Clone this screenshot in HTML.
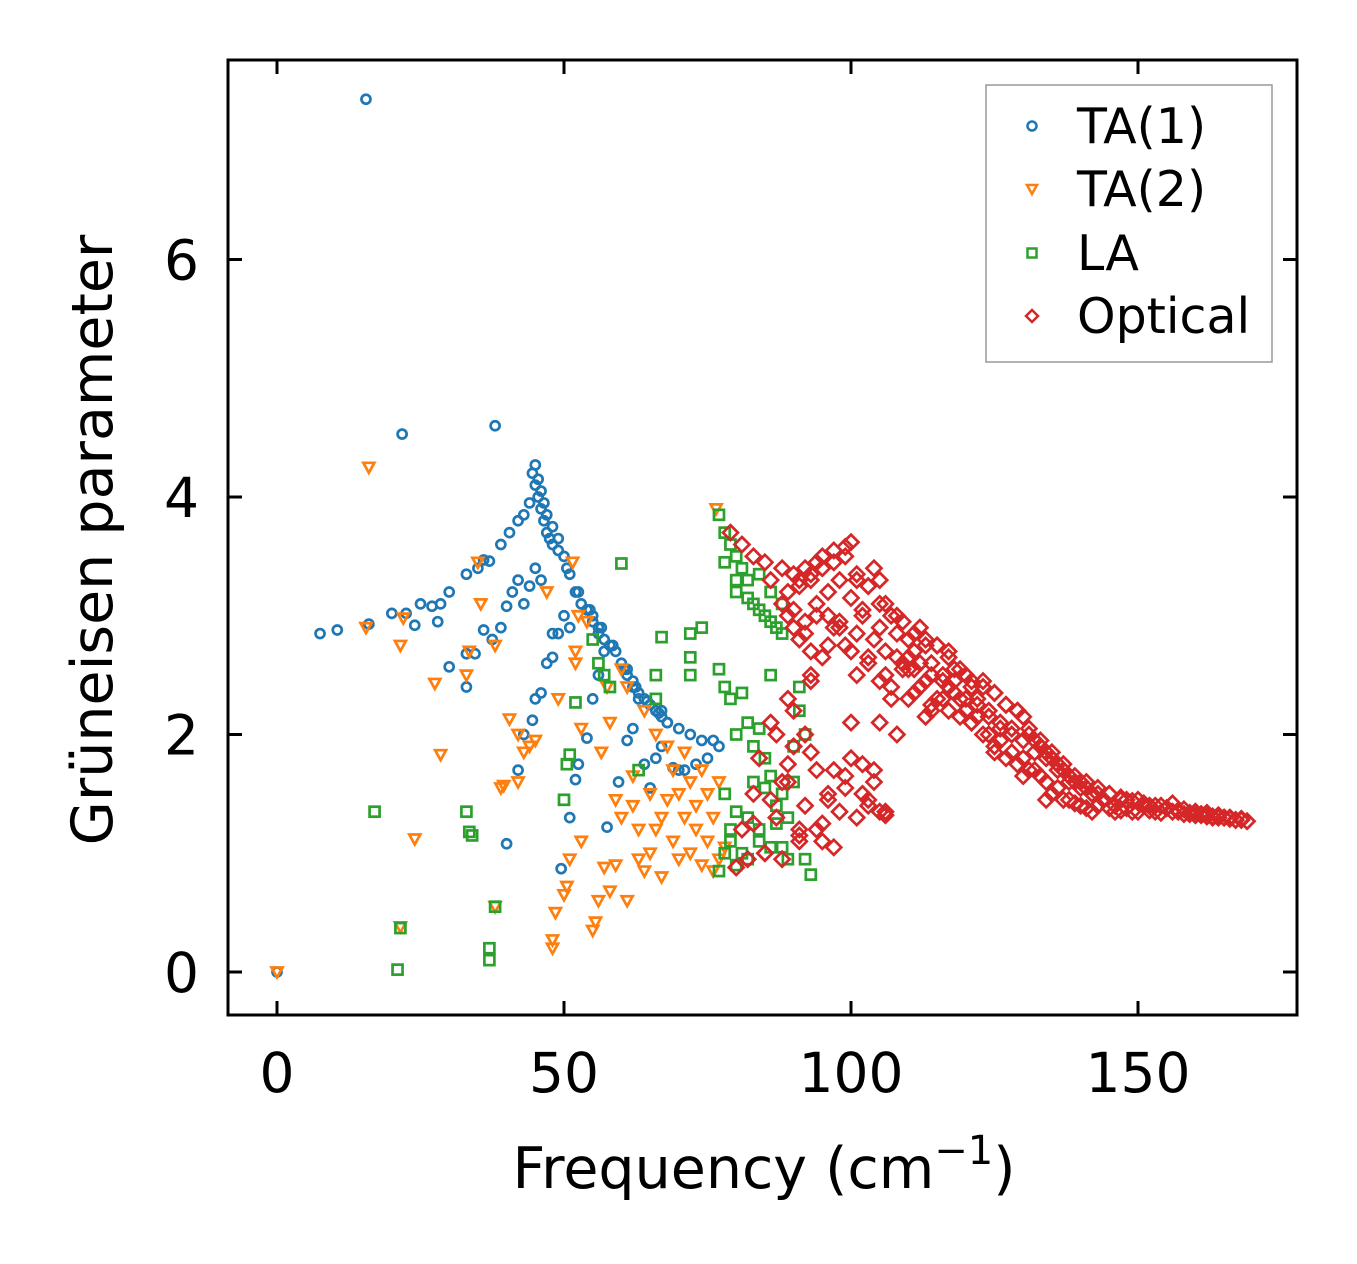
<!DOCTYPE html>
<html><head><meta charset="utf-8"><style>
html,body{margin:0;padding:0;background:#fff;}
svg{display:block;font-family:"DejaVu Sans","Liberation Sans",sans-serif;}
</style></head><body>
<svg id="chart" width="1357" height="1264" viewBox="0 0 1357 1264" xmlns="http://www.w3.org/2000/svg">
<rect width="1357" height="1264" fill="#fff"/>
<g id="marks"></g>
<rect x="228" y="60" width="1069" height="955" fill="none" stroke="#000" stroke-width="3"/>
<g id="axes"></g>
<text x="764" y="1188" font-size="57" text-anchor="middle">Frequency (cm<tspan dy="-24" font-size="40">−1</tspan><tspan dy="24">)</tspan></text>
<text transform="translate(112,540) rotate(-90)" font-size="57" text-anchor="middle">Grüneisen parameter</text>
<g>
<rect x="986" y="85" width="286" height="277" fill="#fff" stroke="#999" stroke-width="1.5"/>
<circle cx="1032" cy="126" r="4.5" fill="none" stroke="#1f77b4" stroke-width="2.5"/>
<text x="1077" y="143" font-size="49">TA(1)</text>
<path d="M1027,185 L1037,185 L1032,194 Z" fill="none" stroke="#ff7f0e" stroke-width="2.5"/>
<text x="1077" y="206" font-size="49">TA(2)</text>
<rect x="1027.5" y="248.5" width="9" height="9" fill="none" stroke="#2ca02c" stroke-width="2.5"/>
<text x="1077" y="270" font-size="49">LA</text>
<path d="M1032,310 L1038,316 L1032,322 L1026,316 Z" fill="none" stroke="#d62728" stroke-width="2.5"/>
<text x="1077" y="333" font-size="49">Optical</text>
</g>
</svg>
<script>
const xTicks=[0,50,100,150];
const yTicks=[0,2,4,6];
const ta1X=[0,7.5,10.5,16,15.5,21.8,38,20,22.5,25,27,28.5,30,33,35,36,37,39,40.5,42,43,44,44.5,45,45.5,46,46.5,47,48,49,50,51,52,53,54,55,56,57,58,59,60,61,62,63,64,65,66,67,68,70,72,74,76,77,30,33,33,34.5,36,37.5,39,40,41,42,43,44,45,46,43,42,44.5,45,46,47,48,48,49,50,51,40,49.5,51,52,52.5,54,55,56,57.5,59.5,61,62,64,65,66,67,69,70,71,73,75,24,28,45,46,47,48,55,56,57,61,62,63,67,68,45.5,46.5,47.5,49,50.5,52.5,54.5,56.5,58.5,60.5,62.5,64.5,66.5];
const ta1Y=[0,2.85,2.88,2.93,7.35,4.53,4.6,3.02,3.02,3.1,3.08,3.1,3.2,3.35,3.4,3.47,3.46,3.6,3.7,3.8,3.85,3.95,4.2,4.27,4.15,4.05,3.95,3.85,3.75,3.65,3.5,3.35,3.2,3.1,3.05,2.95,2.85,2.8,2.75,2.7,2.6,2.55,2.45,2.35,2.3,2.25,2.2,2.15,2.1,2.05,2.0,1.95,1.95,1.9,2.57,2.4,2.68,2.68,2.88,2.8,2.9,3.08,3.2,3.3,3.1,3.25,3.4,3.3,2.0,1.7,2.12,2.3,2.35,2.6,2.65,2.85,2.85,3.0,2.9,1.08,0.87,1.3,1.62,1.75,1.97,2.3,2.5,1.22,1.6,1.95,2.05,1.75,1.55,1.8,1.9,1.72,1.7,1.7,1.75,1.8,2.92,2.95,4.1,3.9,3.7,3.6,3.0,2.9,2.7,2.5,2.4,2.3,2.2,2.1,4.0,3.8,3.65,3.55,3.4,3.2,3.05,2.9,2.75,2.55,2.4,2.28,2.18];
const ta2X=[0,15.5,16,21.5,21.5,22,24,27.5,28.5,33,33.5,35,35.5,38,38,39,39.5,40.5,42,42,43,44,45,47,48,48,48.5,49,50,50.5,51,51.5,52,52,53,54,55,55.5,56,56.5,57,57.5,58,58,59,59,60,60,61,61,62,62,63,63,64,64,65,65,66,66,67,67,68,68,69,69,70,70,71,71,72,72,73,73,74,74,75,75,76,76,77,77,76.5,78,52.5,53];
const ta2Y=[0,2.9,4.25,2.75,0.38,2.98,1.12,2.43,1.83,2.5,2.7,3.45,3.1,2.75,0.55,1.55,1.57,2.13,1.6,2.0,1.85,1.9,1.95,3.2,0.2,0.27,0.5,2.3,0.65,0.72,0.95,3.45,2.7,2.6,1.1,2.95,0.35,0.42,0.6,1.85,0.88,2.4,0.68,2.1,1.45,0.9,2.55,1.3,0.6,2.4,1.65,1.4,0.95,1.2,2.2,0.85,1.0,1.5,2.0,1.2,0.8,1.3,1.45,1.9,1.1,1.7,0.95,1.5,1.3,1.85,1.0,1.6,1.2,1.4,0.9,1.7,1.1,1.5,0.85,1.3,0.95,1.6,3.9,1.05,3.0,2.05];
const laX=[17,21,21.5,33,33.5,34,37,37,38,50,50.5,51,52,60,55,56,57,58,63,66,66,67,72,72,72,74,77,78,79,80,80,81,82,83,84,85,86,87,88,77,78,79,80,81,82,83,84,85,86,78,79,80,81,82,83,84,85,86,87,88,89,90,90,91,91,92,92,93,89,86,84,77,78,79,80,82,87,88,78,80,82,84,86,88];
const laY=[1.35,0.02,0.37,1.35,1.18,1.15,0.2,0.1,0.55,1.45,1.75,1.83,2.27,3.44,2.8,2.6,2.5,2.4,1.7,2.5,2.3,2.82,2.85,2.65,2.5,2.9,3.85,3.7,3.6,3.5,3.2,3.4,3.3,3.1,3.35,3.0,3.2,2.9,3.1,2.55,2.4,2.3,2.0,2.35,2.1,1.9,2.05,1.8,2.5,1.5,1.2,1.35,1.0,1.3,1.6,1.1,1.55,1.65,1.4,1.5,1.3,1.9,1.6,2.4,2.2,2.0,0.95,0.82,0.95,1.05,1.2,0.85,1.0,1.1,0.9,0.95,1.25,1.05,3.45,3.3,3.15,3.05,2.95,2.85];
const optX=[79,81,83,85,86,88,88,89,90,90,91,92,92,93,94,94,95,96,96,97,98,98,99,100,100,101,101,102,103,103,104,105,105,106,106,107,108,108,109,110,110,111,112,112,113,114,114,115,116,116,117,118,118,119,120,120,121,122,122,123,124,124,125,126,126,127,128,128,129,130,130,131,132,132,133,134,134,135,136,136,137,138,138,139,140,140,141,142,142,143,144,145,146,147,148,149,150,151,152,153,154,155,156,157,158,159,160,161,162,163,164,165,166,167,168,169,
 81,82,83,84,85,86,87,88,89,90,91,92,93,94,95,96,97,98,99,100,101,102,103,104,105,106,80,83,86,89,92,88,91,94,97,90,93,96,99,102,105,85,87,89,91,93,95,100,103,104,106,110,113,117,121,125,130,134,114,108,111,
 89,91,93,95,97,99,101,103,105,107,109,111,113,115,117,119,121,123,125,127,129,131,133,135,137,139,141,143,145,147,149,151,153,155,157,159,161,163,165,167,
 90,92,94,96,98,100,102,104,106,108,110,112,114,116,118,120,122,124,126,128,130,132,134,136,138,140,142,144,146,148,150,152,154,156,158,160,162,164,166,168,
 91,93,95,97,99,101,103,105,107,109,111,113,115,117,119,121,123,125,127,129,131,133,135,137,139,141,143,145,147];
const optY=[3.7,3.6,3.5,3.45,3.3,3.4,3.1,3.0,3.35,2.9,3.25,3.4,2.85,3.3,3.45,3.0,3.5,2.75,3.2,3.55,2.95,3.3,3.58,3.62,2.7,3.3,2.5,3.0,3.25,2.65,3.4,2.9,3.3,2.5,3.1,2.3,2.85,3.0,2.6,2.8,2.65,2.55,2.9,2.4,2.75,2.6,2.2,2.75,2.5,2.3,2.7,2.45,2.55,2.3,2.5,2.2,2.4,2.3,2.15,2.45,2.2,2.0,2.35,2.1,1.95,2.25,2.05,1.85,2.2,2.15,1.8,2.0,1.95,1.7,1.9,1.85,1.6,1.8,1.75,1.55,1.7,1.65,1.45,1.6,1.6,1.4,1.55,1.5,1.35,1.5,1.45,1.5,1.35,1.45,1.45,1.35,1.45,1.4,1.4,1.35,1.4,1.38,1.42,1.35,1.37,1.33,1.35,1.32,1.34,1.3,1.32,1.3,1.3,1.28,1.29,1.27,
 1.2,0.95,1.5,1.8,1.0,2.1,1.3,1.6,2.3,1.9,1.1,1.4,2.45,1.7,1.25,1.5,1.05,1.35,1.65,1.8,1.3,1.5,1.4,1.6,1.35,1.32,0.88,1.25,1.45,1.75,2.0,0.95,1.15,1.2,1.7,2.2,2.5,1.45,1.55,1.75,2.1,1.0,2.0,1.6,1.2,1.85,1.1,2.1,1.45,1.7,1.35,2.3,2.15,2.4,2.1,1.85,1.65,1.45,2.25,2.0,2.7,
 3.2,3.3,3.35,3.4,3.45,3.5,3.35,3.25,3.1,3.0,2.95,2.85,2.8,2.75,2.65,2.55,2.45,2.4,2.35,2.25,2.2,2.05,1.95,1.85,1.75,1.65,1.6,1.55,1.5,1.47,1.44,1.42,1.4,1.38,1.36,1.34,1.33,1.31,1.3,1.28,
 3.05,2.95,3.1,3.0,2.9,3.15,3.05,2.8,2.7,2.65,2.55,2.6,2.5,2.45,2.35,2.3,2.25,2.15,2.05,2.0,1.95,1.85,1.8,1.7,1.6,1.55,1.5,1.45,1.4,1.38,1.35,1.36,1.34,1.35,1.33,1.32,1.31,1.3,1.29,1.28,
 2.8,2.7,2.65,2.9,2.75,2.85,2.6,2.45,2.4,2.55,2.35,2.45,2.3,2.2,2.15,2.1,2.0,1.9,1.8,1.75,1.7,1.65,1.5,1.45,1.42,1.38,1.4,1.38,1.36];
const X0=277,XS=5.74,Y0=972,YS=118.75;
const sx=v=>X0+v*XS, sy=v=>Y0-v*YS;
const NS='http://www.w3.org/2000/svg';
const marks=document.getElementById('marks');
const axes=document.getElementById('axes');
function mk(tag,attrs){const e=document.createElementNS(NS,tag);for(const k in attrs)e.setAttribute(k,attrs[k]);return e;}
function series(xs,ys,color,shape,name){
 const g=mk('g',{});
 
 
 for(let i=0;i<xs.length;i++){
  const x=sx(xs[i]),y=sy(ys[i]);let e;
  if(shape==='o')e=mk('circle',{cx:x,cy:y,r:4.5});
  else if(shape==='v')e=mk('path',{d:`M${x-5.5},${y-4.5} L${x+5.5},${y-4.5} L${x},${y+5.5} Z`});
  else if(shape==='s')e=mk('rect',{x:x-5,y:y-5,width:10,height:10});
  else e=mk('path',{d:`M${x},${y-7.5} L${x+7.5},${y} L${x},${y+7.5} L${x-7.5},${y} Z`});
  e.setAttribute('fill','none');e.setAttribute('stroke',color);e.setAttribute('stroke-width','2.7');
  
  
  g.appendChild(e);
 }
 marks.appendChild(g);
}
series(ta1X,ta1Y,'#1f77b4','o','ta1');
series(ta2X,ta2Y,'#ff7f0e','v','ta2');
series(laX,laY,'#2ca02c','s','la');
series(optX,optY,'#d62728','d','optical');
for(const t of xTicks){
 const x=sx(t);
 axes.appendChild(mk('line',{x1:x,x2:x,y1:1015,y2:1001,stroke:'#000','stroke-width':3}));
 axes.appendChild(mk('line',{x1:x,x2:x,y1:60,y2:74,stroke:'#000','stroke-width':3}));
 const tx=mk('text',{x:x,y:1092,'font-size':55,'text-anchor':'middle'});tx.textContent=t;
 
 
 axes.appendChild(tx);
}
for(const t of yTicks){
 const y=sy(t);
 axes.appendChild(mk('line',{x1:228,x2:242,y1:y,y2:y,stroke:'#000','stroke-width':3}));
 axes.appendChild(mk('line',{x1:1297,x2:1283,y1:y,y2:y,stroke:'#000','stroke-width':3}));
 const tx=mk('text',{x:199,y:y+20,'font-size':55,'text-anchor':'end'});tx.textContent=t;
 
 
 axes.appendChild(tx);
}
</script>
</body></html>
